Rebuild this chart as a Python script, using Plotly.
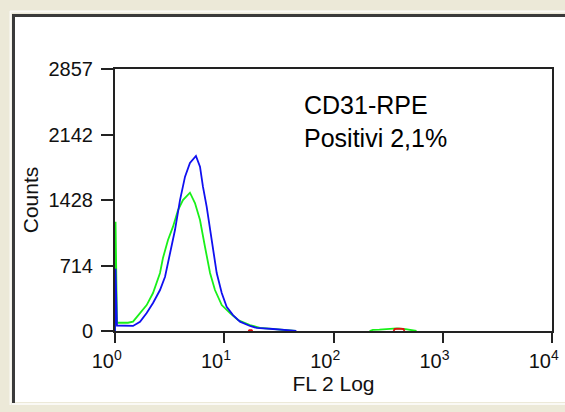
import plotly.graph_objects as go

# ---- data ----
# log10 of FL2 channel position, counts
blue_log = [0.0, 0.005, 0.018, 0.092, 0.165, 0.229, 0.290, 0.348, 0.412, 0.458, 0.503, 0.549,
            0.595, 0.641, 0.686, 0.741, 0.778, 0.805, 0.839, 0.870, 0.897, 0.931, 0.977,
            1.022, 1.080, 1.144, 1.236, 1.297, 1.446, 1.538, 1.60, 1.66]
blue_counts = [0, 680, 60, 55, 55, 100, 196, 305, 447, 592, 851, 1101,
               1428, 1683, 1832, 1908, 1792, 1574, 1356, 1101, 883, 632, 414,
               265, 174, 102, 55, 33, 22, 10, 5, 0]

green_log = [0.0, 0.005, 0.018, 0.119, 0.165, 0.229, 0.290, 0.348, 0.412, 0.439, 0.485, 0.531,
             0.577, 0.622, 0.686, 0.732, 0.778, 0.824, 0.870, 0.915, 0.977, 1.053,
             1.126, 1.236, 1.327, 1.465, 1.584, 1.65, None, 2.33, 2.36, 2.42, 2.50, 2.58, 2.66, 2.72, 2.76]
green_counts = [0, 1190, 90, 90, 102, 196, 283, 414, 632, 796, 992, 1138,
                1319, 1428, 1508, 1395, 1210, 916, 632, 447, 283, 196,
                120, 65, 33, 20, 10, 0, None, 0, 12, 15, 18, 28, 20, 12, 0]

red_log = [1.22, 1.23, 1.25, 1.26, None, 2.55, 2.56, 2.60, 2.64, 2.65]
red_counts = [0, 8, 8, 0, None, 0, 22, 25, 22, 0]

y_ticks = [0, 714, 1428, 2142, 2857]
x_ticks = [1, 10, 100, 1000, 10000]
x_tick_labels = ["10<sup>0</sup>", "10<sup>1</sup>", "10<sup>2</sup>", "10<sup>3</sup>", "10<sup>4</sup>"]

W, H = 565, 412
L, R, T, B = 115, 13, 69, 81

PAD = "\u00a0\u00a0\u00a0"  # labels sit a little left of their ticks in the original


def to_fl(vals):
    return [None if v is None else 10 ** v for v in vals]


fig = go.Figure()
fig.add_trace(go.Scatter(x=to_fl(green_log), y=green_counts, mode="lines",
                         line=dict(color="#19F019", width=1.8), hoverinfo="skip"))
fig.add_trace(go.Scatter(x=to_fl(red_log), y=red_counts, mode="lines",
                         line=dict(color="#E01010", width=1.8), hoverinfo="skip"))
fig.add_trace(go.Scatter(x=to_fl(blue_log), y=blue_counts, mode="lines",
                         line=dict(color="#1010F0", width=1.8), hoverinfo="skip"))


def px_x(p):
    return (p - L) / (W - L - R)


def px_y(p):
    return (H - B - p) / (H - T - B)


shapes = [
    # white panel of the window
    dict(type="rect", xref="paper", yref="paper", x0=px_x(12), x1=px_x(570), y0=px_y(402), y1=px_y(14),
         fillcolor="#FFFFFF", line=dict(width=0), layer="below"),
    # dark left and top frame lines
    dict(type="line", xref="paper", yref="paper", x0=px_x(13.5), x1=px_x(13.5), y0=px_y(403), y1=px_y(14),
         line=dict(color="#3A3A3A", width=3), layer="below"),
    dict(type="line", xref="paper", yref="paper", x0=px_x(12), x1=px_x(570), y0=px_y(15.5), y1=px_y(15.5),
         line=dict(color="#3A3A3A", width=3), layer="below"),
    # light inner edge lines
    dict(type="line", xref="paper", yref="paper", x0=px_x(10.5), x1=px_x(10.5), y0=px_y(405), y1=px_y(11),
         line=dict(color="#FAF9F5", width=2), layer="below"),
    dict(type="line", xref="paper", yref="paper", x0=px_x(10), x1=px_x(570), y0=px_y(11.5), y1=px_y(11.5),
         line=dict(color="#FAF9F5", width=2), layer="below"),
    dict(type="line", xref="paper", yref="paper", x0=px_x(12), x1=px_x(570), y0=px_y(404), y1=px_y(404),
         line=dict(color="#FAF9F5", width=2), layer="below"),
]

fig.update_layout(
    width=W, height=H,
    margin=dict(l=L, r=R, t=T, b=B, pad=0, autoexpand=False),
    paper_bgcolor="#ECE9D8",
    plot_bgcolor="#FFFFFF",
    showlegend=False,
    shapes=shapes,
    font=dict(family="Liberation Sans, Arial, sans-serif", color="#111111", size=20),
    xaxis=dict(type="log", range=[0, 4], tickvals=x_ticks, ticktext=[t + PAD for t in x_tick_labels],
               showgrid=False, zeroline=False, showline=True, linecolor="#222222", linewidth=2,
               mirror=True, ticks="outside", ticklen=10, tickwidth=1.5, tickcolor="#222222",
               tickfont=dict(size=20), ticklabelstandoff=1, ticklabeloverflow="allow",
               automargin=False,
               title=dict(text="FL 2 Log", font=dict(size=21), standoff=4)),
    yaxis=dict(range=[0, 2857], tickvals=y_ticks, ticktext=[str(v) for v in y_ticks],
               showgrid=False, zeroline=False, showline=True, linecolor="#222222", linewidth=2,
               mirror=True, ticks="outside", ticklen=12, tickwidth=1.5, tickcolor="#222222",
               tickfont=dict(size=20), ticklabelstandoff=4, automargin=False,
               title=dict(text="Counts", font=dict(size=21), standoff=4)),
    annotations=[
        dict(text="CD31-RPE<br>Positivi 2,1%", xref="paper", yref="paper",
             x=px_x(302), y=px_y(89), xanchor="left", yanchor="top", align="left",
             showarrow=False, font=dict(size=25, color="#000000")),
    ],
)

fig.write_html("out.html")
